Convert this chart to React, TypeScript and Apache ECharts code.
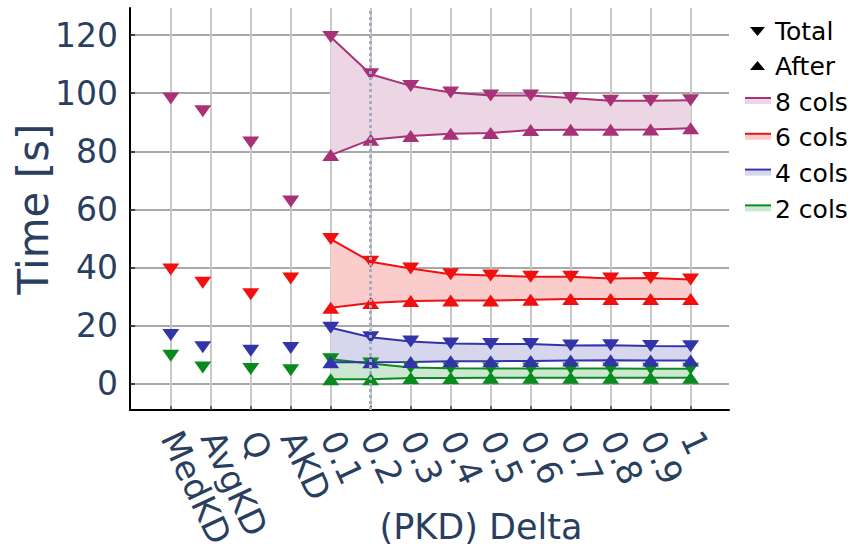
import React, { useEffect, useRef } from "react";
import * as echarts from "echarts";

// Category labels along the x axis and their positions
const tickLabels = ["MedKD", "AvgKD", "Q", "AKD", "0.1", "0.2", "0.3", "0.4", "0.5", "0.6", "0.7", "0.8", "0.9", "1"];
const tickPositions = [0, 1, 2, 3, 4, 5, 6, 7, 8, 9, 10, 11, 12, 13];
// x positions of the data points (AvgKD markers sit slightly left of their tick)
const xPositions = [0, 0.8, 2, 3, 4, 5, 6, 7, 8, 9, 10, 11, 12, 13];
const yTicks = [0, 20, 40, 60, 80, 100, 120];

// Total time (all 14 positions)
const total8 = [98.2, 93.8, 83.0, 62.7, 119.3, 106.5, 102.5, 100.2, 99.2, 99.2, 98.3, 97.4, 97.4, 97.6];
const total6 = [39.3, 34.8, 30.8, 36.2, 49.8, 42.0, 39.7, 37.7, 37.3, 36.8, 36.8, 36.2, 36.4, 35.9];
const total4 = [16.8, 12.6, 11.4, 12.3, 19.3, 16.0, 14.6, 13.9, 13.7, 13.7, 13.2, 13.3, 13.0, 12.9];
const total2 = [9.7, 5.6, 5.1, 4.7, 8.5, 7.0, 5.6, 5.4, 5.3, 5.3, 5.3, 5.3, 5.2, 5.2];
// After time (PKD deltas 0.1 .. 1 only)
const after8 = [78.7, 84.0, 85.3, 86.0, 86.3, 87.3, 87.4, 87.4, 87.5, 87.9];
const after6 = [26.2, 27.8, 28.5, 28.7, 28.7, 28.9, 29.2, 29.2, 29.2, 29.2];
const after4 = [7.4, 7.4, 7.5, 7.8, 7.8, 7.9, 8.0, 8.1, 8.0, 8.0];
const after2 = [1.6, 1.6, 2.0, 2.0, 2.1, 2.1, 2.1, 2.1, 2.1, 2.1];

const groups = [
  { name: "2 cols", color: "#0a8a1e", fill: "#cce8d2", total: total2, after: after2 },
  { name: "4 cols", color: "#3434aa", fill: "#d6d6ec", total: total4, after: after4 },
  { name: "6 cols", color: "#f01010", fill: "#fbcccc", total: total6, after: after6 },
  { name: "8 cols", color: "#a83278", fill: "#ecd6e3", total: total8, after: after8 },
];

const FONT = "DejaVu Sans";
const AXIS_COLOR = "#2a3f5f";
const MARK = [17, 12];

function buildSeries(): any[] {
  const series: any[] = [];
  groups.forEach((g) => {
    const early = g.total.slice(0, 4).map((v, i) => [xPositions[i], v]);
    const lateX = xPositions.slice(4);
    const tot = lateX.map((x, i) => [x, g.total[i + 4]]);
    const aft = lateX.map((x, i) => [x, g.after[i]]);
    series.push({
      name: g.name + " band",
      type: "custom",
      data: [[lateX[0], g.after[0]]],
      z: 1,
      silent: true,
      renderItem: (_params: any, api: any) => {
        const upper = tot.map((p) => api.coord(p));
        const lower = aft.map((p) => api.coord(p)).reverse();
        return {
          type: "polygon",
          shape: { points: upper.concat(lower) },
          style: { fill: g.fill, stroke: "none" },
        };
      },
    });
    series.push({
      name: g.name + " after",
      type: "line",
      data: aft,
      symbol: "triangle",
      symbolSize: MARK,
      itemStyle: { color: g.color, opacity: 1 },
      lineStyle: { color: g.color, width: 2 },
      z: 3,
    });
    series.push({
      name: g.name + " total",
      type: "line",
      data: tot,
      symbol: "triangle",
      symbolRotate: 180,
      symbolSize: MARK,
      itemStyle: { color: g.color, opacity: 1 },
      lineStyle: { color: g.color, width: 2 },
      z: 3,
    });
    series.push({
      name: g.name + " total (baselines)",
      type: "scatter",
      data: early,
      symbol: "triangle",
      symbolRotate: 180,
      symbolSize: MARK,
      itemStyle: { color: g.color, opacity: 1 },
      z: 3,
    });
  });
  series.push({
    name: "delta marker",
    type: "line",
    data: [],
    z: 5,
    markLine: {
      silent: true,
      symbol: "none",
      label: { show: false },
      lineStyle: { color: "#a3adbe", width: 3, type: [3, 3] },
      data: [{ xAxis: 5 }],
    },
  });
  return series;
}

function legendGraphics(): any[] {
  const els: any[] = [];
  const tx = 775;
  const textStyle = (text: string, y: number) => ({
    type: "text",
    x: tx,
    y,
    style: { text, fill: "#000", font: `25px "${FONT}"`, verticalAlign: "middle", align: "left" },
  });
  els.push({ type: "polygon", shape: { points: [[750, 27], [765, 27], [757.5, 36]] }, style: { fill: "#000" } });
  els.push(textStyle("Total", 31));
  els.push({ type: "polygon", shape: { points: [[750, 70], [765, 70], [757.5, 61]] }, style: { fill: "#000" } });
  els.push(textStyle("After", 66));
  const rows = [groups[3], groups[2], groups[1], groups[0]];
  rows.forEach((g, i) => {
    const y = 102 + i * 35.8;
    els.push({ type: "rect", shape: { x: 745, y: y - 3, width: 26, height: 5 }, style: { fill: g.fill } });
    els.push({ type: "line", shape: { x1: 745, y1: y - 4, x2: 771, y2: y - 4 }, style: { stroke: g.color, lineWidth: 2 } });
    els.push(textStyle(g.name, y));
  });
  els.push({
    type: "text",
    x: 481,
    y: 527,
    style: { text: "(PKD) Delta", fill: AXIS_COLOR, font: `35px "${FONT}"`, align: "center", verticalAlign: "middle" },
  });
  return els;
}

export default function App() {
  const ref = useRef<HTMLDivElement>(null);
  useEffect(() => {
    if (!ref.current) return;
    const chart = echarts.init(ref.current, null, { renderer: "svg" });
    chart.setOption({
      animation: false,
      backgroundColor: "#fff",
      grid: { left: 130, right: 124, top: 8, bottom: 142, containLabel: false, outerBoundsMode: "none" },
      xAxis: {
        type: "value",
        min: -1.02,
        max: 13.96,
        axisLine: { show: true, onZero: false, lineStyle: { color: "#000", width: 2 } },
        axisTick: { show: true, inside: true, length: 4, customValues: tickPositions, lineStyle: { color: "#444", width: 1.5 } },
        axisLabel: {
          customValues: tickPositions,
          formatter: (v: number) => tickLabels[Math.round(v)] ?? "",
          rotate: -65,
          margin: 23,
          fontSize: 34,
          fontFamily: FONT,
          color: AXIS_COLOR,
        },
        splitLine: { show: true, lineStyle: { color: "#c8c8c8", width: 2 } },
      },
      yAxis: {
        type: "value",
        min: -9,
        max: 129.3,
        name: "Time [s]",
        nameLocation: "middle",
        nameGap: 76,
        nameMoveOverlap: false,
        nameTextStyle: { fontSize: 42, fontFamily: FONT, color: AXIS_COLOR },
        axisLine: { show: true, onZero: false, lineStyle: { color: "#000", width: 2 } },
        axisTick: { show: true, inside: true, length: 5, customValues: yTicks, lineStyle: { color: "#222", width: 1.5 } },
        axisLabel: { customValues: yTicks, margin: 12, fontSize: 33, fontFamily: FONT, color: AXIS_COLOR },
        splitLine: { show: true, lineStyle: { color: "#a8a8a8", width: 2 } },
      },
      graphic: legendGraphics(),
      series: buildSeries(),
    });
    return () => chart.dispose();
  }, []);
  return <div ref={ref} style={{ position: "fixed", left: 0, top: 0, width: 853, height: 552 }} />;
}
